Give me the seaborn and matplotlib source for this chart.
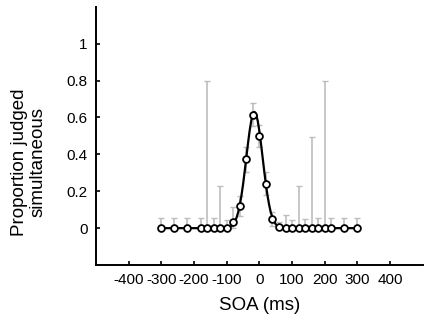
import numpy as np
import pandas as pd
import matplotlib
matplotlib.use("Agg")
import matplotlib.pyplot as plt
import seaborn as sns

soa = [-300, -260, -220, -180, -160, -140, -120, -100, -80, -60, -40, -20, 0,
       20, 40, 60, 80, 100, 120, 140, 160, 180, 200, 220, 260, 300]
prop = [0, 0, 0, 0, 0, 0, 0, 0, 0.036, 0.12, 0.373, 0.615, 0.50,
        0.242, 0.051, 0.007, 0, 0, 0, 0, 0, 0, 0, 0, 0, 0]
err = [0.055, 0.055, 0.055, 0.055, 0.80, 0.053, 0.229, 0.042, 0.077, 0.056,
       0.067, 0.063, 0.058, 0.062, 0.038, 0.029, 0.069, 0.042, 0.229, 0.047,
       0.495, 0.053, 0.80, 0.055, 0.055, 0.055]

# Fitted curve
fit_x = [-300, -120, -110, -100, -95, -90, -85, -80, -75, -70, -65, -60, -55,
         -50, -45, -40, -35, -30, -25, -20, -15, -10, -5, 0, 5, 10, 15, 20,
         25, 30, 35, 40, 45, 50, 55, 60, 70, 80, 90, 300]
fit_y = [0, 0, 0, 0.002, 0.004, 0.007, 0.0125, 0.0215, 0.035, 0.056, 0.085,
         0.125, 0.175, 0.236, 0.307, 0.382, 0.457, 0.526, 0.581, 0.618, 0.63,
         0.618, 0.581, 0.526, 0.457, 0.382, 0.307, 0.236, 0.175, 0.125,
         0.085, 0.056, 0.035, 0.0215, 0.0125, 0.007, 0.002, 0.0005, 0, 0]

xticks = [-400, -300, -200, -100, 0, 100, 200, 300, 400]
yticks = [0, 0.2, 0.4, 0.6, 0.8, 1]
ytick_labels = ["0", "0.2", "0.4", "0.6", "0.8", "1"]

sns.set_theme(style="ticks")
plt.rcParams['font.family'] = ['Liberation Sans', 'DejaVu Sans']

fig = plt.figure(figsize=(4.4, 3.26), dpi=100)
ax = fig.add_axes([0.218, 0.187, 0.743, 0.792])

df = pd.DataFrame({"soa": soa, "prop": prop, "err": err})
lower = np.minimum(df["err"].values, df["prop"].values)
ax.errorbar(df["soa"], df["prop"], yerr=[lower, df["err"].values],
            fmt="none", ecolor="#bdbdbd", elinewidth=1.2, capsize=2,
            capthick=1.0, zorder=1)

fit_df = pd.DataFrame({"x": fit_x, "y": fit_y})
sns.lineplot(data=fit_df, x="x", y="y", ax=ax, color="black", linewidth=1.6,
             sort=True, zorder=2)
sns.scatterplot(data=df, x="soa", y="prop", ax=ax, marker="o", s=24,
                facecolor="white", edgecolor="black", linewidth=1.3, zorder=3)

ax.set_xlim(-500, 500)
ax.set_ylim(-0.2, 1.2)
ax.set_xticks(xticks)
ax.set_xticklabels([str(t) for t in xticks])
ax.set_yticks(yticks)
ax.set_yticklabels(ytick_labels)
ax.tick_params(direction="in", length=3, width=1.2, labelsize=11,
               colors="black", labelcolor="black", pad=6)
for s in ["top", "right"]:
    ax.spines[s].set_visible(False)
for s in ["left", "bottom"]:
    ax.spines[s].set_linewidth(1.4)
    ax.spines[s].set_color("black")

ax.set_xlabel("SOA (ms)", fontsize=13.5, labelpad=7, color="black")
ax.set_ylabel("Proportion judged\nsimultaneous", fontsize=13.5,
              linespacing=1.1, color="black")
ax.yaxis.label.set_va("center")
ax.yaxis.set_label_coords(-0.205, 0.40)

fig.savefig("out.png", dpi=100, facecolor="white")
